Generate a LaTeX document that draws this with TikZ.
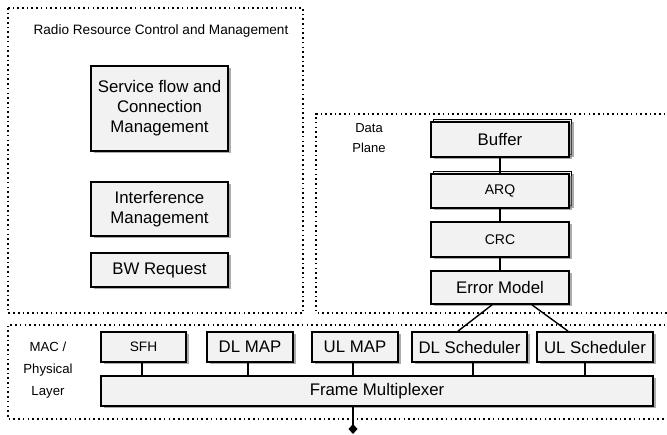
\documentclass[tikz,border=0pt]{standalone}
\usepackage{fontspec}
\setmainfont{Liberation Sans}
\usetikzlibrary{shadows,arrows.meta}
\definecolor{boxgray}{HTML}{F2F2F2}
\newcommand\myBigFont{\fontsize{16.8}{20}\selectfont}
\newcommand\mySmallFont{\fontsize{13.6}{20}\selectfont}
\begin{document}
\begin{tikzpicture}[x=1pt,y=-1pt,
  base/.style={draw=black, line width=1.8pt, fill=boxgray, inner sep=0pt, align=center, font=\myBigFont},
  shadowed/.style={general shadow={shadow xshift=2.5pt, shadow yshift=-2.5pt, fill=black!55, opacity=.6}},
  box/.style={base, shadowed},
  stackbox/.style={base,
    general shadow={shadow xshift=5pt, shadow yshift=0pt, fill=black!55, opacity=.6},
    general shadow={shadow xshift=2.5pt, shadow yshift=2.5pt, draw=black, line width=1.8pt, fill=boxgray},
    shadowed},
  conn/.style={draw=black, line width=1.4pt},
  frame/.style={draw=black, line width=1.6pt, dash pattern=on 1.6pt off 3.1pt},
  lbl/.style={align=center, font=\mySmallFont, inner sep=0pt}
]
\useasboundingbox (0,0) rectangle (667,435);

% dotted frames
\draw[frame] (8,8) rectangle (303,313);
\draw[frame] (670,114) -- (316,114) -- (316,313) -- (670,313);
\draw[frame] (670,325) -- (8,325) -- (8,419) -- (670,419);

% labels
\node[lbl, anchor=base] (rrc) at (161,35) {Radio Resource Control and Management};
\node[lbl, anchor=base, font=\fontsize{13}{20}\selectfont] (dp) at (369,153) {Data\\Plane};
\node[lbl, anchor=base, font=\fontsize{13.2}{22}\selectfont] (mac) at (48,396) {MAC /\\Physical\\Layer};

% radio resource control boxes
\node[box, minimum width=137pt, minimum height=85pt] (sfc) at (159.5,108.5) {Service flow and\\Connection\\Management};
\node[box, minimum width=137pt, minimum height=54pt] (intf) at (159.5,209) {Interference\\Management};
\node[box, minimum width=137pt, minimum height=34pt] (bw) at (159.5,270) {BW Request};

% data plane
\node[stackbox, minimum width=138pt, minimum height=35pt] (buf) at (500,139.5) {Buffer};
\node[stackbox, minimum width=138pt, minimum height=34pt, font=\fontsize{14}{20}\selectfont] (arq) at (500,191) {ARQ};
\node[box, minimum width=138pt, minimum height=35pt, font=\fontsize{14}{20}\selectfont] (crc) at (500,239.5) {CRC};
\node[box, minimum width=138pt, minimum height=33pt] (err) at (500,287.5) {Error Model};

% MAC layer
\node[box, minimum width=85pt, minimum height=30pt, font=\fontsize{13.7}{20}\selectfont] (sfh) at (143.5,347) {SFH};
\node[box, minimum width=86pt, minimum height=30pt] (dlmap) at (250,347) {DL MAP};
\node[box, minimum width=86pt, minimum height=30pt] (ulmap) at (355,347) {UL MAP};
\node[box, minimum width=115pt, minimum height=30pt] (dls) at (469.5,347) {DL Scheduler};
\node[box, minimum width=116pt, minimum height=30pt] (uls) at (595,347) {UL Scheduler};
\node[box, minimum width=552pt, minimum height=30pt] (mux) at (377,391) {Frame Multiplexer};

% connectors
\draw[conn] (buf.south) -- (arq.north);
\draw[conn] (arq.south) -- (crc.north);
\draw[conn] (crc.south) -- (err.north);
\draw[conn] ([xshift=-8pt]err.south) -- ([xshift=-11.5pt]dls.north);
\draw[conn] ([xshift=32pt]err.south) -- ([xshift=-27pt]uls.north);

\draw[conn] ([xshift=-1.5pt]sfh.south) -- ([xshift=-1.5pt]sfh.south |- mux.north);
\draw[conn] ([xshift=-2pt]dlmap.south) -- ([xshift=-2pt]dlmap.south |- mux.north);
\draw[conn] ([xshift=-2pt]ulmap.south) -- ([xshift=-2pt]ulmap.south |- mux.north);
\draw[conn] ([xshift=3.5pt]dls.south) -- ([xshift=3.5pt]dls.south |- mux.north);
\draw[conn] ([xshift=-10pt]uls.south) -- ([xshift=-10pt]uls.south |- mux.north);

\coordinate (out) at (353,434);
\draw[conn, -{Diamond[length=10pt,width=9pt]}] ([xshift=-24pt]mux.south) -- (out);
\end{tikzpicture}
\end{document}
